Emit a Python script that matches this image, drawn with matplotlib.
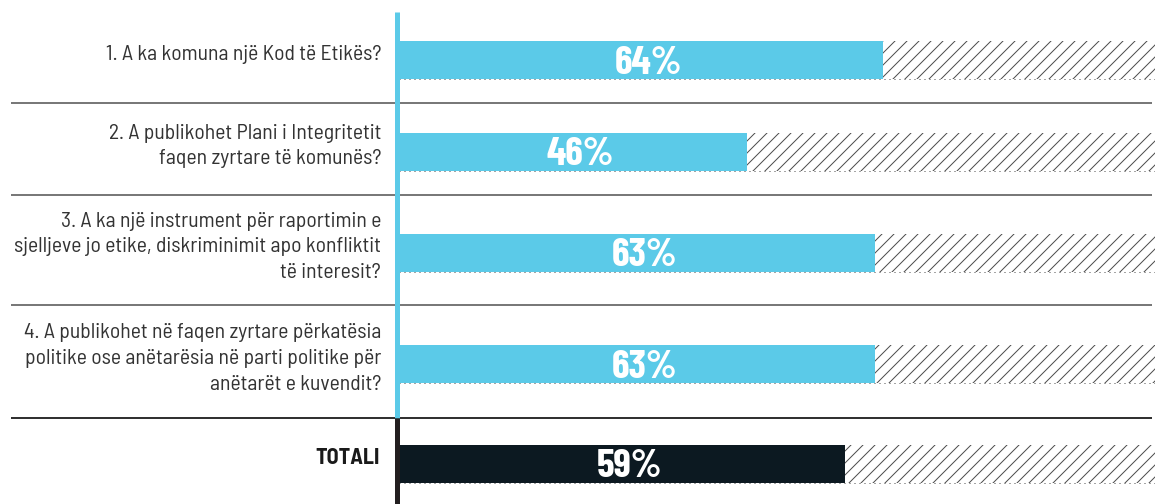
import matplotlib
matplotlib.use("Agg")
import matplotlib.pyplot as plt
from matplotlib.transforms import blended_transform_factory
from matplotlib import font_manager

# ---- data ----
questions = [
    "1. A ka komuna një Kod të Etikës?",
    "2. A publikohet Plani i Integritetit\nfaqen zyrtare të komunës?",
    "3. A ka një instrument për raportimin e\nsjelljeve jo etike, diskriminimit apo konfliktit\ntë interesit?",
    "4. A publikohet në faqen zyrtare përkatësia\npolitike ose anëtarësia në parti politike për\nanëtarët e kuvendit?",
    "TOTALI",
]
values = [64, 46, 63, 63, 59]
value_labels = ["64%", "46%", "63%", "63%", "59%"]

# ---- layout (pixel-like units, y downward) ----
W, H, DPI = 1155, 504, 72
row_bounds = [12, 103, 195, 305, 418, 504]
bar_h = 38
blue = "#5bcae8"
dark = "#0c1921"
hatch_col = "#4d4d4d"

avail = {f.name for f in font_manager.fontManager.ttflist}
def pick(cands):
    for c in cands:
        if c in avail:
            return c
    return "DejaVu Sans"
label_font = pick(["Barlow Semi Condensed", "Roboto Condensed", "Barlow Condensed", "Archivo Narrow"])
pct_font = pick(["Barlow Condensed", "Roboto Condensed", "Barlow Semi Condensed", "Archivo Narrow"])

fig = plt.figure(figsize=(W / DPI, H / DPI), dpi=DPI)
x0_px, x100_px = 399, 1155
ax = fig.add_axes([x0_px / W, 0, (x100_px - x0_px) / W, 1])
ax.set_xlim(0, 100)
ax.set_ylim(H, 0)
ax.axis("off")

def px2ax(px):
    return (px - x0_px) / (x100_px - x0_px)

trans = blended_transform_factory(ax.transAxes, ax.transData)
plt.rcParams["hatch.linewidth"] = 1.0

centers = [(row_bounds[i] + row_bounds[i + 1]) / 2 + 2.5 for i in range(len(values))]

for i, (q, v, lab, yc) in enumerate(zip(questions, values, value_labels, centers)):
    is_total = i == len(values) - 1
    col = dark if is_total else blue
    ax.barh(yc, v, height=bar_h, left=0, color=col, linewidth=0)
    ax.barh(yc, 100 - v, height=bar_h, left=v, facecolor="white",
            edgecolor=hatch_col, hatch="//", linewidth=0)
    ax.hlines(yc + bar_h / 2, 0, 100, colors=hatch_col, linestyles=(0, (1, 4)), linewidth=1)
    ax.text(v / 2 + 1, yc + 13.5, lab, ha="center", va="baseline", color="white",
            fontsize=40, fontweight="bold", family=pct_font, clip_on=False)
    if is_total:
        ax.text(px2ax(380), yc - 5, q, transform=trans, ha="right", va="center",
                fontsize=22, fontweight="bold", color="#1a1a1a", family=label_font)
    else:
        ax.text(px2ax(381), yc - 5.5, q, transform=trans, ha="right", va="center",
                fontsize=21.7, color="#333333", family=label_font, linespacing=1.45)

# separators
for j, yb in enumerate(row_bounds[1:-1]):
    last = j == len(row_bounds) - 3
    ax.plot([px2ax(11), px2ax(1152)], [yb, yb], transform=trans,
            color="#1a1a1a" if last else "#6a6a6a", linewidth=1.8, clip_on=False,
            solid_capstyle="butt")

# vertical axis line
ax.plot([px2ax(396.5)] * 2, [row_bounds[0], row_bounds[-2]], transform=trans,
        color=blue, linewidth=5, clip_on=False, solid_capstyle="butt")
ax.plot([px2ax(396.5)] * 2, [row_bounds[-2], row_bounds[-1]], transform=trans,
        color="#231f20", linewidth=5, clip_on=False, solid_capstyle="butt")

fig.savefig("out.png", dpi=DPI)
